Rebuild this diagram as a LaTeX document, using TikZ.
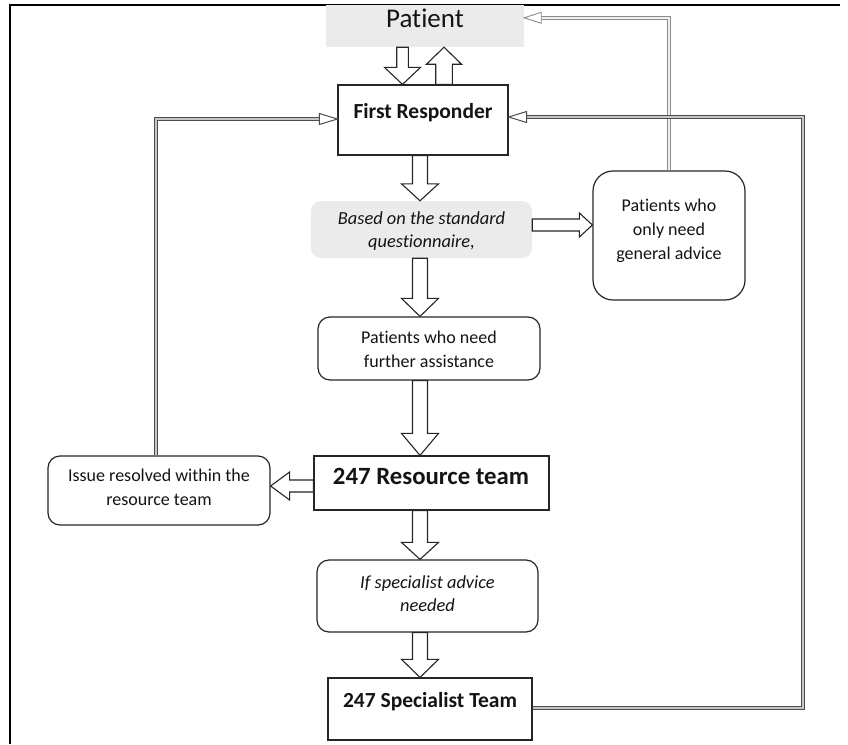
\documentclass[tikz,border=0pt]{standalone}
\usepackage{fontspec}
\setmainfont[Ligatures=NoCommon]{Carlito}
\usetikzlibrary{calc}
\newcommand{\blockarrow}[5]{%
  \coordinate (ba-s) at #1;
  \coordinate (ba-t) at #2;
  \coordinate (ba-b) at ($(ba-t)!#5!(ba-s)$);
  \draw[barrow] ($(ba-s)!#3!90:(ba-t)$) -- ($(ba-b)!#3!90:(ba-t)$) -- ($(ba-b)!#4!90:(ba-t)$)
    -- (ba-t) -- ($(ba-b)!#4!-90:(ba-t)$) -- ($(ba-b)!#3!-90:(ba-t)$) -- ($(ba-s)!#3!-90:(ba-t)$) -- cycle;}
\begin{document}
\begin{tikzpicture}[x=1pt,y=-1pt,
  box/.style={draw=black!85, line width=1.2pt, fill=white, inner sep=0pt},
  rbox/.style={box, rounded corners=12pt},
  graybox/.style={fill=black!8, draw=none, inner sep=0pt},
  barrow/.style={draw=black!85, line width=1.1pt, fill=white, line join=miter},
  dbl/.style={draw=black!70, double=black!22, double distance=2.4pt, line width=1pt},
  dbllight/.style={draw=black!45, double=black!6, double distance=2.2pt, line width=0.9pt},
  tipst/.style={draw=black!70, line width=1pt, fill=white, line join=miter},
  tiplight/.style={draw=black!45, line width=0.9pt, fill=white, line join=miter},
  txt/.style={inner sep=0pt, align=center, text=black!92},
  s18/.style={font=\fontsize{18}{23.5}\selectfont},
  s18i/.style={font=\fontsize{18.4}{23}\selectfont\itshape}
]
\useasboundingbox[fill=white] (0,0) rectangle (848,744);
% frame
\draw[line width=2pt] (10,744) -- (10,4.5) -- (840,4.5);

% boxes
\node[graybox, minimum width=198pt, minimum height=42pt] (patient) at (425,26) {};
\node[txt, font=\fontsize{27}{30}\selectfont] (patientt) at (425,18) {Patient};

\node[box, minimum width=170pt, minimum height=70pt] (fr) at (423,120) {};
\node[txt, font=\fontsize{21.5}{24}\selectfont\bfseries] (frt) at (423,113) {First Responder};

\node[graybox, rounded corners=10pt, minimum width=221pt, minimum height=57pt] (bq) at (421.5,229.5) {};
\node[txt, s18i] (bqt) at (421.5,231.5) {Based on the standard\\questionnaire,};

\node[box, rounded corners=20pt, minimum width=152pt, minimum height=129pt] (ga) at (669,235.5) {};
\node[txt, font=\fontsize{18}{24}\selectfont] (gat) at (669,230.5) {Patients who\\only need\\general advice};

\node[rbox, minimum width=222pt, minimum height=63pt] (pf) at (429,348.5) {};
\node[txt, s18] (pft) at (429,349.5) {Patients who need\\further assistance};

\node[box, minimum width=235pt, minimum height=54pt] (res) at (431.5,483) {};
\node[txt, font=\fontsize{24.8}{28}\selectfont\bfseries] (rest) at (431,476) {247 Resource team};

\node[rbox, minimum width=222pt, minimum height=69pt] (ir) at (159,490.5) {};
\node[txt, s18] (irt) at (159,487.5) {Issue resolved within the\\resource team};

\node[rbox, minimum width=221pt, minimum height=72pt] (ifs) at (427.5,596) {};
\node[txt, s18i] (ifst) at (427.5,593.5) {If specialist advice\\needed};

\node[box, minimum width=204pt, minimum height=62pt] (sp) at (430,709) {};
\node[txt, font=\fontsize{21.5}{24}\selectfont\bfseries] (spt) at (430,702) {247 Specialist Team};

% column x for block arrows
\coordinate (xcol) at (420,0);
\coordinate (xdn) at (402.5,0);
\coordinate (xup) at (444,0);

% block arrows
\blockarrow{(patient.south -| xdn)}{(fr.north -| xdn)}{5.8pt}{18pt}{17pt}
\blockarrow{(fr.north -| xup)}{(patient.south -| xup)}{8.3pt}{17.5pt}{17pt}
\blockarrow{(fr.south -| xcol)}{(bq.north -| xcol)}{7.5pt}{18.5pt}{17pt}
\blockarrow{(bq.south -| xcol)}{(pf.north -| xcol)}{7.5pt}{18.5pt}{18pt}
\blockarrow{(pf.south -| xcol)}{(res.north -| xcol)}{7.5pt}{18.5pt}{22pt}
\blockarrow{(res.south -| xcol)}{(ifs.north -| xcol)}{7.5pt}{18.5pt}{17pt}
\blockarrow{(ifs.south -| xcol)}{(sp.north -| xcol)}{7.5pt}{18.5pt}{18pt}
\coordinate (yga) at (0,225);
\blockarrow{(bq.east |- yga)}{(ga.west |- yga)}{6pt}{12pt}{13pt}
\coordinate (yir) at (0,486);
\blockarrow{(res.west |- yir)}{(ir.east |- yir)}{6pt}{14pt}{19pt}

% double-line connectors
% general advice -> patient
\coordinate (pat) at ($(patient.north east)+(0,13)$);
\coordinate (patb) at ($(pat)+(17,0)$);
\draw[dbllight] (ga.north) |- (patb);
\draw[tiplight] (pat) -- ($(patb)+(0,-5.5)$) -- ($(patb)+(0,5.5)$) -- cycle;

% issue resolved -> first responder (left)
\coordinate (irtop) at ($(ir.north)+(-3,0)$);
\coordinate (frl) at ($(fr.west)+(0,-1)$);
\coordinate (frlb) at ($(frl)+(-18,0)$);
\draw[dbl] (irtop) |- (frlb);
\draw[tipst] (frl) -- ($(frlb)+(0,-5.5)$) -- ($(frlb)+(0,5.5)$) -- cycle;

% specialist -> first responder (right)
\coordinate (spe) at ($(sp.east)+(0,-1)$);
\coordinate (rc) at (803,117);
\coordinate (frr) at (fr.east |- rc);
\coordinate (frrb) at ($(frr)+(18,0)$);
\draw[dbl] (spe) -| (rc) -- (frrb);
\draw[tipst] (frr) -- ($(frrb)+(0,-5.5)$) -- ($(frrb)+(0,5.5)$) -- cycle;
\end{tikzpicture}
\end{document}
